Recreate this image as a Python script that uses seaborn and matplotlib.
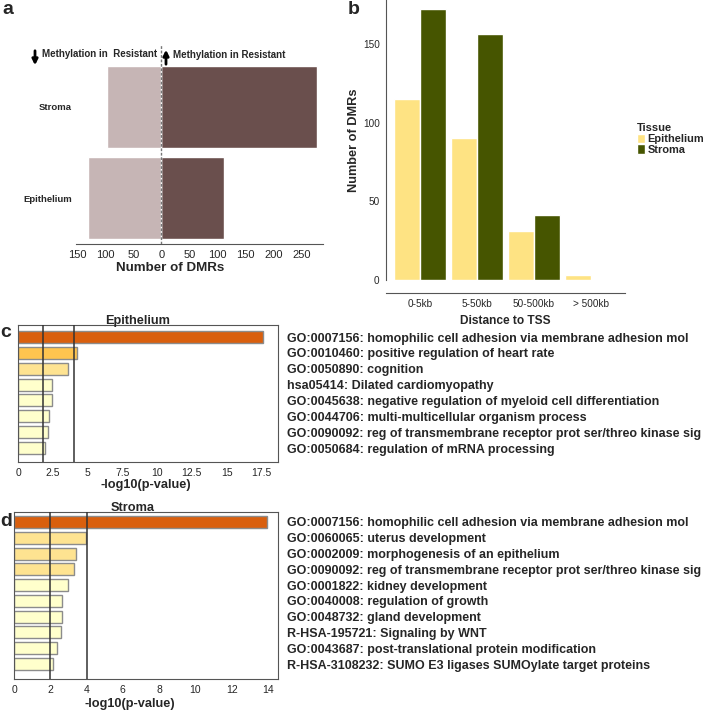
import matplotlib
matplotlib.use('Agg')
import matplotlib.pyplot as plt
from matplotlib.patches import FancyArrowPatch
from matplotlib.ticker import FormatStrFormatter
import numpy as np
import pandas as pd
import seaborn as sns

# panel a - DMR counts per tissue
tissues = ['Stroma', 'Epithelium']
dmr_up = [278, 112]
dmr_down = [96, 131]

# panel b - distance to TSS
tss_bins = ['0-5kb', '5-50kb', '50-500kb', '> 500kb']
tss_epithelium = [115, 90, 31, 3]
tss_stroma = [172, 156, 41, 0]

# panel c - enrichment, epithelium
epi_terms = ['GO:0007156: homophilic cell adhesion via membrane adhesion mol',
             'GO:0010460: positive regulation of heart rate',
             'GO:0050890: cognition',
             'hsa05414: Dilated cardiomyopathy',
             'GO:0045638: negative regulation of myeloid cell differentiation',
             'GO:0044706: multi-multicellular organism process',
             'GO:0090092: reg of transmembrane receptor prot ser/threo kinase sig',
             'GO:0050684: regulation of mRNA processing']
epi_logp = [17.6, 4.27, 3.62, 2.47, 2.48, 2.26, 2.14, 1.95]
epi_colors = ['#D95F0E', '#FEC44F', '#FEE391', '#FFFFCC', '#FFFFCC', '#FFFFCC', '#FFFFCC', '#FFFFCC']
epi_lines = [1.78, 4.0]

# panel d - enrichment, stroma
str_terms = ['GO:0007156: homophilic cell adhesion via membrane adhesion mol',
             'GO:0060065: uterus development',
             'GO:0002009: morphogenesis of an epithelium',
             'GO:0090092: reg of transmembrane receptor prot ser/threo kinase sig',
             'GO:0001822: kidney development',
             'GO:0040008: regulation of growth',
             'GO:0048732: gland development',
             'R-HSA-195721: Signaling by WNT',
             'GO:0043687: post-translational protein modification',
             'R-HSA-3108232: SUMO E3 ligases SUMOylate target proteins']
str_logp = [13.97, 3.99, 3.40, 3.29, 2.98, 2.67, 2.65, 2.59, 2.39, 2.15]
str_colors = ['#D95F0E', '#FEE391', '#FEE391', '#FEE391', '#FFFFCC', '#FFFFCC', '#FFFFCC', '#FFFFCC', '#FFFFCC', '#FFFFCC']
str_lines = [2, 4]

sns.set_style('white')
plt.rcParams['font.family'] = ['Liberation Sans', 'DejaVu Sans']

W, H = 708, 710
fig = plt.figure(figsize=(W / 100, H / 100), dpi=100)


def box(l, t, r, b):
    return [l / W, 1 - b / H, (r - l) / W, (b - t) / H]


# ---- a
ax = fig.add_axes(box(76, 45, 323, 244))
sns.barplot(x=dmr_up, y=tissues, color='#6A4F4D', width=0.9, saturation=1, ax=ax)
sns.barplot(x=[-v for v in dmr_down], y=tissues, color='#C6B5B5', width=0.9, saturation=1, ax=ax)
ax.axvline(0, color='#777777', ls=(0, (2, 1.2)), lw=1)
ax.set_xlim(-152, 288)
ax.set_ylim(1.505, -0.681)
ticks = [-150, -100, -50, 0, 50, 100, 150, 200, 250]
ax.set_xticks(ticks)
ax.set_xticklabels([str(abs(t)) for t in ticks], fontsize=8)
ax.set_yticks([0, 1])
ax.set_yticklabels(tissues, fontsize=6.8, fontweight='bold')
ax.tick_params(axis='y', length=0, pad=3)
ax.tick_params(axis='x', length=2.5, width=0.8, color='#555555', pad=2)
for s in ['top', 'right', 'left']:
    ax.spines[s].set_visible(False)
ax.spines['bottom'].set_color('#555555')
ax.spines['bottom'].set_linewidth(0.8)
ax.set_xlabel('Number of DMRs', fontsize=9.6, fontweight='bold', labelpad=1, x=0.38)
ax.set_ylabel('')
fig.text(42 / W, 1 - 54 / H, 'Methylation in  Resistant', fontsize=7, fontweight='bold', va='center')
fig.text(173 / W, 1 - 55 / H, 'Methylation in Resistant', fontsize=7, fontweight='bold', va='center')
fig.add_artist(FancyArrowPatch((35 / W, 1 - 48 / H), (35 / W, 1 - 68 / H), transform=fig.transFigure,
                               arrowstyle='-|>', mutation_scale=8, lw=2, color='black'))
fig.add_artist(FancyArrowPatch((166 / W, 1 - 67 / H), (166 / W, 1 - 47 / H), transform=fig.transFigure,
                               arrowstyle='-|>', mutation_scale=8, lw=2, color='black'))

# ---- b
ax = fig.add_axes(box(386, 0, 625, 280))
df_b = pd.DataFrame({'bin': tss_bins * 2,
                     'n': tss_epithelium + tss_stroma,
                     'Tissue': ['Epithelium'] * len(tss_bins) + ['Stroma'] * len(tss_bins)})
sns.barplot(data=df_b, x='bin', y='n', hue='Tissue', palette=['#FEE383', '#465500'],
            width=0.91, saturation=1, ax=ax)
ax.set_ylim(0, 177.9)
ax.set_xlim(-0.596, 3.596)
ax.set_yticks([0, 50, 100, 150])
ax.tick_params(axis='both', labelsize=7.2, length=2.5, width=0.8, color='#555555', pad=2)
for s in ['top', 'right']:
    ax.spines[s].set_visible(False)
for s in ['left', 'bottom']:
    ax.spines[s].set_color('#555555')
    ax.spines[s].set_linewidth(0.8)
ax.spines['bottom'].set_position(('outward', 9.4))
ax.set_xlabel('Distance to TSS', fontsize=8.6, fontweight='bold', labelpad=4)
ax.set_ylabel('Number of DMRs', fontsize=9.2, fontweight='bold', labelpad=2)
leg = ax.legend(title='Tissue', loc='upper left', bbox_to_anchor=(637 / W, 1 - 123 / H),
                bbox_transform=fig.transFigure, frameon=False, borderpad=0, borderaxespad=0,
                handlelength=0.7, handleheight=0.9, handletextpad=0.25, labelspacing=0.05,
                fontsize=7.9, title_fontsize=8, alignment='left')
leg.get_title().set_fontweight('bold')
for t in leg.get_texts():
    t.set_fontweight('bold')


# ---- c, d
def enrich(ax, terms, vals, cols, lines, xmax, xticks, title, tx, lx, lpad, top, bottom):
    sns.barplot(x=vals, y=terms, hue=terms, palette=cols, legend=False, width=0.76,
                edgecolor='#8c8c8c', linewidth=1, saturation=1, ax=ax)
    for v in lines:
        ax.axvline(v, color='#333333', lw=1.1, zorder=3)
    ax.set_xlim(0, xmax)
    ax.set_ylim(bottom, top)
    ax.set_xticks(xticks)
    ax.xaxis.set_major_formatter(FormatStrFormatter('%g'))
    ax.yaxis.tick_right()
    ax.tick_params(axis='y', length=0, pad=6.5, labelsize=9.0)
    for t in ax.get_yticklabels():
        t.set_fontweight('bold')
    ax.tick_params(axis='x', labelsize=7.5, length=2.5, width=0.8, color='#555555', pad=1.5)
    for s in ax.spines.values():
        s.set_color('#555555')
        s.set_linewidth(0.8)
    ax.set_title(title, fontsize=9.2, fontweight='bold', x=tx, pad=1)
    ax.set_xlabel('-log10(p-value)', fontsize=9.2, fontweight='bold', labelpad=lpad, x=lx)
    ax.set_ylabel('')


ax = fig.add_axes(box(18, 325, 278, 462))
enrich(ax, epi_terms, epi_logp, epi_colors, epi_lines, 18.7, np.arange(0, 18, 2.5),
       'Epithelium', 0.46, 0.49, 1, -0.757, 7.88)
ax = fig.add_axes(box(14, 512, 278, 679))
enrich(ax, str_terms, str_logp, str_colors, str_lines, 14.55, np.arange(0, 15, 2),
       'Stroma', 0.45, 0.44, 2.5, -0.63, 9.95)

# panel letters
for letter, x, y in [('a', 2, 10), ('b', 348, 10), ('c', 0, 332), ('d', 0, 522)]:
    fig.text(x / W, 1 - y / H, letter, fontsize=14, fontweight='bold', ha='left', va='center')

fig.savefig('out.png', dpi=100)
